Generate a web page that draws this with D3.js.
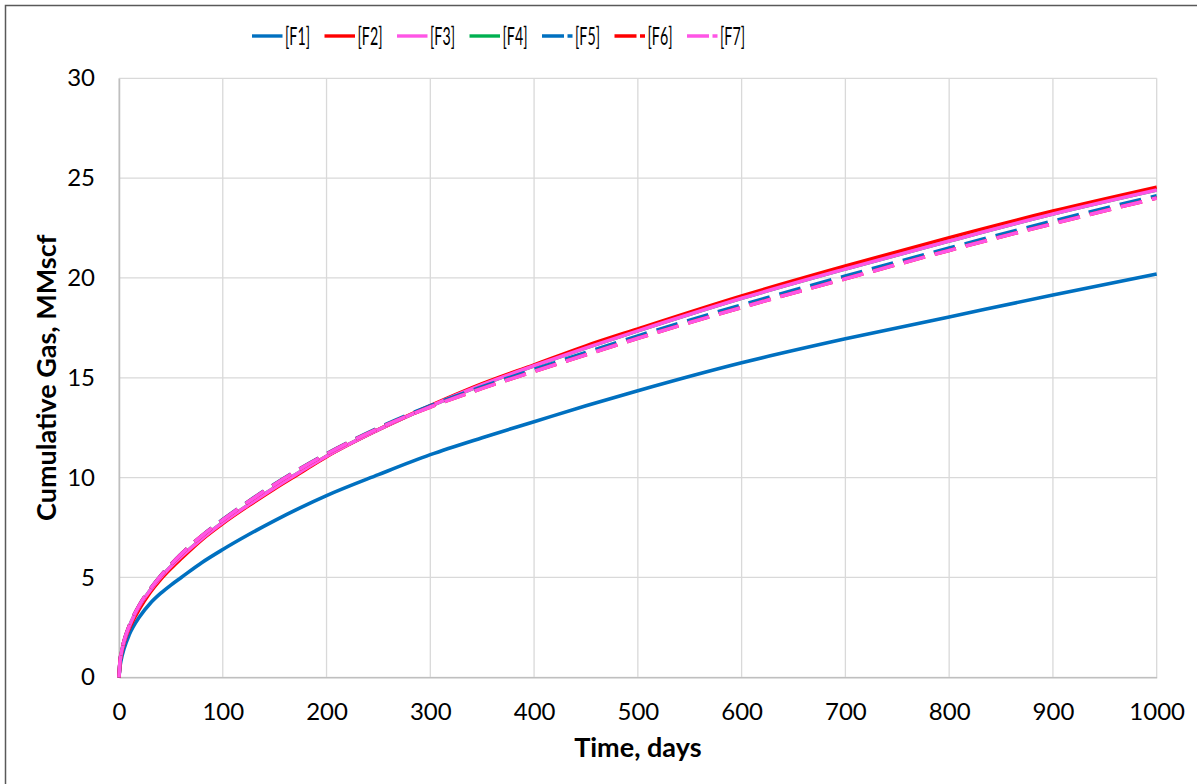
<!DOCTYPE html>
<html>
<head>
<meta charset="utf-8">
<script src="https://cdn.jsdelivr.net/npm/d3@7"></script>
<style>
  html, body { margin: 0; padding: 0; background: #ffffff; }
  svg { display: block; }
  text { font-family: Lato, "Open Sans", "Liberation Sans", sans-serif; fill: #000; }
</style>
</head>
<body>
<svg id="chart" width="1197" height="784"></svg>
<script>
// Sampling times (days)
const days = [0, 1, 2, 5, 10, 20, 30, 40, 50, 60, 80, 100, 125, 150, 175, 200, 250, 300, 350, 400, 450, 500, 600, 700, 800, 900, 1000];

// Cumulative gas (MMscf) for each case
const F1 = [0, 0.55, 0.85, 1.45, 2.15, 3.05, 3.7, 4.2, 4.62, 5.0, 5.75, 6.4, 7.15, 7.85, 8.5, 9.1, 10.15, 11.15, 12.0, 12.8, 13.6, 14.35, 15.75, 16.95, 18.05, 19.15, 20.2];
const F2 = [0, 0.75, 1.1, 1.75, 2.45, 3.45, 4.25, 4.9, 5.45, 5.95, 6.9, 7.7, 8.6, 9.45, 10.25, 11.05, 12.4, 13.6, 14.7, 15.65, 16.6, 17.45, 19.1, 20.6, 22.02, 23.35, 24.55];
const F3 = [0, 0.8, 1.15, 1.8, 2.55, 3.6, 4.35, 5.0, 5.55, 6.05, 6.95, 7.75, 8.65, 9.5, 10.3, 11.07, 12.4, 13.58, 14.65, 15.6, 16.5, 17.35, 18.98, 20.45, 21.85, 23.2, 24.4];
const F4 = [0, 0.8, 1.15, 1.8, 2.55, 3.6, 4.35, 5.0, 5.55, 6.05, 6.95, 7.75, 8.65, 9.5, 10.3, 11.07, 12.4, 13.58, 14.65, 15.6, 16.5, 17.35, 18.98, 20.45, 21.85, 23.2, 24.4];
const F5 = [0, 0.82, 1.18, 1.85, 2.6, 3.65, 4.42, 5.08, 5.65, 6.18, 7.1, 7.9, 8.82, 9.68, 10.47, 11.2, 12.5, 13.6, 14.55, 15.42, 16.27, 17.1, 18.65, 20.1, 21.5, 22.85, 24.12];
const F6 = [0, 0.82, 1.18, 1.84, 2.59, 3.64, 4.41, 5.07, 5.64, 6.17, 7.09, 7.88, 8.8, 9.66, 10.45, 11.18, 12.46, 13.54, 14.47, 15.32, 16.15, 16.98, 18.52, 19.96, 21.38, 22.72, 24.0];
const F7 = [0, 0.82, 1.18, 1.84, 2.59, 3.64, 4.41, 5.07, 5.64, 6.17, 7.09, 7.88, 8.8, 9.66, 10.45, 11.18, 12.46, 13.54, 14.47, 15.32, 16.15, 16.98, 18.52, 19.96, 21.38, 22.72, 24.0];

const seriesNames = ["[F1]", "[F2]", "[F3]", "[F4]", "[F5]", "[F6]", "[F7]"];
const seriesValues = [F1, F2, F3, F4, F5, F6, F7];
const seriesColors = ["#0070C0", "#FF0000", "#FF55E6", "#00B050", "#0070C0", "#FF0000", "#FF55E6"];
const seriesDashed = [false, false, false, false, true, true, true];
// painting order (first = bottom)
const drawOrder = [3, 0, 1, 2, 4, 5, 6];

const xTicks = [0, 100, 200, 300, 400, 500, 600, 700, 800, 900, 1000];
const yTicks = [0, 5, 10, 15, 20, 25, 30];

const svg = d3.select("#chart");
const W = 1197, H = 784;
const plot = { left: 119, right: 1156.7, top: 78.3, bottom: 677.3 };

// outer chart frame
svg.append("rect")
  .attr("x", 5.5).attr("y", 5.5)
  .attr("width", W + 20).attr("height", H + 20)
  .attr("fill", "#fff").attr("stroke", "#595959").attr("stroke-width", 1.5);

const x = d3.scaleLinear().domain([0, 1000]).range([plot.left, plot.right]);
const y = d3.scaleLinear().domain([0, 30]).range([plot.bottom, plot.top]);

// gridlines
const grid = svg.append("g").attr("class", "grid");
grid.selectAll("line.v").data(xTicks).join("line")
  .attr("class", "v")
  .attr("x1", d => x(d)).attr("x2", d => x(d))
  .attr("y1", plot.top).attr("y2", plot.bottom)
  .attr("stroke", "#d9d9d9").attr("stroke-width", 1.3);
grid.selectAll("line.h").data(yTicks).join("line")
  .attr("class", "h")
  .attr("x1", plot.left).attr("x2", plot.right)
  .attr("y1", d => y(d)).attr("y2", d => y(d))
  .attr("stroke", "#d9d9d9").attr("stroke-width", 1.3);

// axes
const xAxis = svg.append("g")
  .attr("transform", `translate(0,${plot.bottom})`)
  .call(d3.axisBottom(x).tickValues(xTicks).tickSize(0).tickPadding(26).tickFormat(d3.format("d")));
const yAxis = svg.append("g")
  .attr("transform", `translate(${plot.left},0)`)
  .call(d3.axisLeft(y).tickValues(yTicks).tickSize(0).tickPadding(24).tickFormat(d3.format("d")));
[xAxis, yAxis].forEach(g => {
  g.select(".domain").attr("stroke", "#bfbfbf").attr("stroke-width", 1.5);
  g.selectAll("text").attr("font-family", "Lato, sans-serif").attr("font-size", 24).attr("fill", "#000");
});

// series lines
const line = d3.line()
  .x((d, i) => x(days[i]))
  .y(d => y(d))
  .curve(d3.curveMonotoneX);

const lines = svg.append("g").attr("class", "series");
drawOrder.forEach(k => {
  lines.append("path")
    .datum(seriesValues[k])
    .attr("d", line)
    .attr("fill", "none")
    .attr("stroke", seriesColors[k])
    .attr("stroke-width", 3.6)
    .attr("stroke-linejoin", "round")
    .attr("stroke-dasharray", seriesDashed[k] ? "22,10" : null);
});

// axis titles
svg.append("text")
  .attr("x", (plot.left + plot.right) / 2).attr("y", 757)
  .attr("text-anchor", "middle")
  .attr("font-size", 27).attr("font-weight", "bold")
  .text("Time, days");
svg.append("text")
  .attr("transform", `translate(56,${(plot.top + plot.bottom) / 2}) rotate(-90)`)
  .attr("text-anchor", "middle")
  .attr("font-size", 27).attr("font-weight", "bold")
  .text("Cumulative Gas, MMscf");

// legend
const legend = svg.append("g").attr("class", "legend");
const legX0 = 252, legStep = 72.5, legY = 36;
seriesNames.forEach((name, i) => {
  const g = legend.append("g").attr("transform", `translate(${legX0 + i * legStep},${legY})`);
  g.append("line")
    .attr("x1", 0).attr("x2", 30.5).attr("y1", 0).attr("y2", 0)
    .attr("stroke", seriesColors[i]).attr("stroke-width", 3.4)
    .attr("stroke-dasharray", seriesDashed[i] ? "22,3.5" : null);
  g.append("text")
    .attr("x", 33).attr("y", 0).attr("dy", "0.35em")
    .attr("font-size", 25)
    .attr("textLength", 25).attr("lengthAdjust", "spacingAndGlyphs")
    .text(name);
});
</script>
</body>
</html>
